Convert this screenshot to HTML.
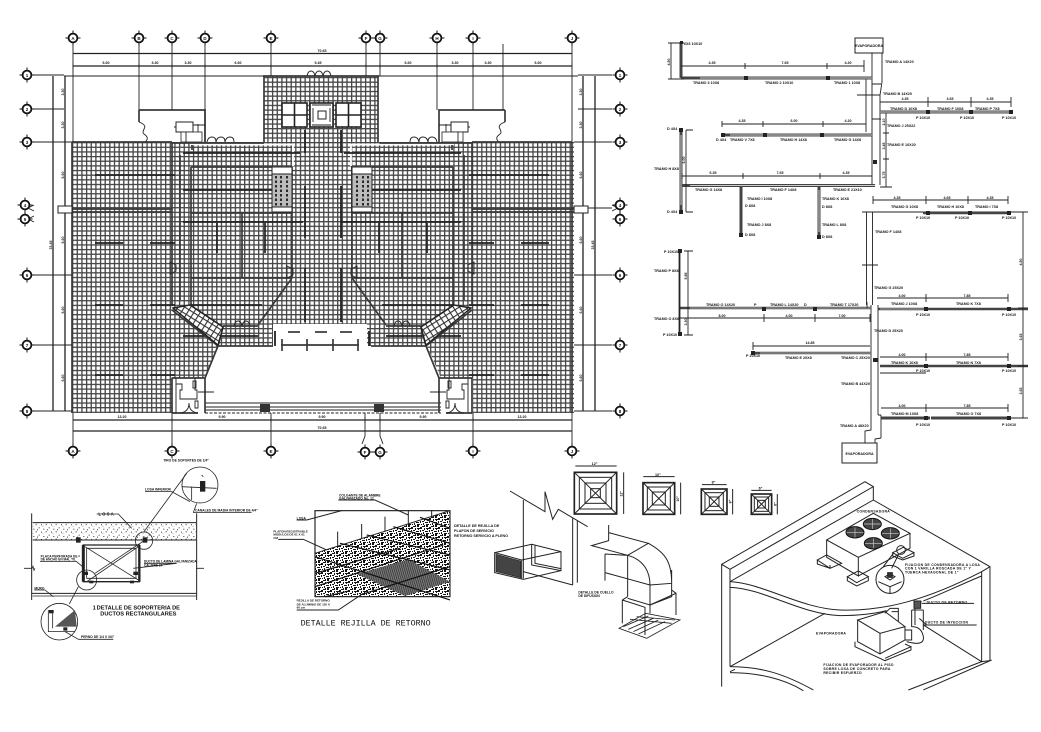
<!DOCTYPE html>
<html lang="es"><head><meta charset="utf-8"><title>Plano de aire acondicionado</title>
<style>
html,body{margin:0;padding:0;background:#fff}
svg{display:block}
text{font-family:"Liberation Sans",sans-serif;font-weight:700;fill:#111}
.t{font-size:3.7px}
.d{font-size:3.6px;text-anchor:middle}
.b{font-size:4.5px;text-anchor:middle}
.l{fill:none;stroke:#222;stroke-width:.9}
.w{fill:none;stroke:#3a3a3a;stroke-width:1.7}
.k{fill:none;stroke:#222;stroke-width:1.8}
.h{fill:none;stroke:#222;stroke-width:1.7}
</style></head><body>
<svg width="1041" height="732" viewBox="0 0 1041 732" xmlns="http://www.w3.org/2000/svg">
<defs>
<pattern id="g" width="4.65" height="4.65" patternUnits="userSpaceOnUse" x="72" y="142">
<rect width="4.65" height="4.65" fill="#fff"/>
<path d="M0 0V4.65M0 0H4.65" stroke="#444" stroke-width="2.6" fill="none"/>
</pattern>
<pattern id="g2" width="5.4" height="5.4" patternUnits="userSpaceOnUse" patternTransform="rotate(32)">
<rect width="5.4" height="5.4" fill="#fff"/>
<path d="M0 0V5.4M0 0H5.4" stroke="#333" stroke-width="2.2" fill="none"/>
</pattern>
<pattern id="sp" width="9" height="9" patternUnits="userSpaceOnUse" patternTransform="scale(3)">
<rect width="9" height="9" fill="#fff"/>
<path d="M0 1h3v1h-3zM4 0h2v2h-2zM7 2h2v2h-2zM2 3h1v2h-1zM4 3h3v1h-3zM0 5h2v1h-2zM3 6h3v1h-3zM7 5h1v2h-1zM1 7h1v2h-1zM4 8h3v1h-3zM8 8h1v1h-1zM5 4h1v1h-1zM2 0h1v1h-1z" fill="#111"/>
</pattern>
<pattern id="st" width="30" height="22" patternUnits="userSpaceOnUse">
<path d="M3 3h3v3h-3zM17 2h3v3h-3zM26 12h3v3h-3zM10 16h3v3h-3zM21 18h3v3h-3zM8 8h2v2h-2z" fill="#333"/>
</pattern>
<pattern id="ht" width="6" height="6" patternUnits="userSpaceOnUse" patternTransform="rotate(-16)">
<rect width="6" height="6" fill="#777"/><path d="M0 0V6" stroke="#222" stroke-width="3.500"/>
</pattern>
<g id="bu"><circle r="4.4" fill="#fff" stroke="#111" stroke-width="1.8"/><path d="M-7.500 0h3M4.500 0h3M0-7.500v3M0 4.500v3" stroke="#111" stroke-width="1"/></g>
<g id="half">
 <path class="w" d="M139 110H205V142M139 110V122"/>
 <path class="l" d="M139 122q8 3 5 7q-2 4 0 5q6 4 1 8M139 142h9"/>
 <rect x="176" y="122" width="17" height="10" fill="#fff" stroke="#222" stroke-width="1"/>
 <rect x="181" y="132" width="21" height="10" fill="#fff" stroke="#222" stroke-width=".8"/>
 <path class="l" d="M186 132v10M176 127h-2M198 124v8M193 125h12"/>
 <path class="l" d="M207 142q1-5 5-5t4 5q1-5 5-5t4 5q1-5 5-5t4 5" stroke-width="1.100"/>
 <path d="M190 144.500H293V166" fill="none" stroke="#fff" stroke-width="1.800"/>
 <path class="w" d="M172 143H264M172 143V305M180 155V300M191 167V305M191 167H272M191 213H292M292 167V278M191 278H292M242 213V278M192 145V150"/>
 <rect x="272" y="167" width="20" height="45" fill="#bbb" stroke="#222"/>
 <rect x="272" y="167" width="20" height="7" fill="#fff" stroke="#222"/>
 <rect x="272" y="207" width="20" height="5" fill="#fff" stroke="#222"/>
 <path d="M276 176v30M281 176v30M287 176v30" stroke="#111" stroke-width="1.700" stroke-dasharray="2.500 2" fill="none"/>
 <path class="h" d="M95 175H175M183 153H300M183 190H272M183 222H303M217 223V253M265 223V253M190 305H262M95 243H123M150 243H175M95 305H123M150 305H175M95 375H123M150 375H175M183 336H258"/>
 <path class="w" d="M60 209H172M60 212H172" stroke-width="1.200"/>
 <path class="w" d="M72 142V413M72 142H172M292 278L258 325M258 326H223M190 305L223 327L218 346L205 378M172 310L218 346M172 378V413"/>
 <polygon points="173,308 190,305 223,327 218,345" fill="url(#g2)" stroke="#222" stroke-width="1.400"/>
 <path class="k" d="M275 331V346" stroke-width="1.300"/>
 <path class="w" d="M218 346H273"/>
 <path class="l" d="M234 326q1-5 4-5t4 5q1-5 4-5t4 5"/>
 <path class="l" d="M287 266l6 3v6l-6 3zM170 262l6 3v6l-6 3z" fill="#fff"/>
 <path class="w" d="M172 378H205V413M172 413H198"/>
 <path class="l" d="M176 378v6h6v6h-2v9h17v-9h-2v-12M180 413q9-1 9-10q0 9 9 10"/>
 <path class="l" d="M193 381h3v7h-3zM195 401h3v7h-3zM198 392H214"/>
 <rect x="172" y="378" width="4" height="35" fill="none" stroke="#333"/>
 <rect x="260" y="404" width="10" height="8" fill="#333"/>
</g>
</defs>
<rect width="1041" height="732" fill="#fff"/>

<!-- FLOOR GRID -->
<rect x="72" y="142" width="502" height="271" fill="url(#g)"/>
<rect x="264" y="76" width="114" height="66" fill="url(#g)"/>
<path fill="#fff" d="M218 346H273V324H367V346H427L441 378H473V413H172V378H205Z"/>
<rect x="205" y="403" width="236" height="10" fill="#fff"/>
<path fill="none" stroke="#222" stroke-width="1" d="M205 403H441M205 407H441M205 410H441"/>
<path fill="none" stroke="#222" stroke-width="1" stroke-dasharray="3 1.500" d="M205 413H441"/>
<use href="#half"/>
<use href="#half" transform="translate(644,0) scale(-1,1)"/>
<path class="k" d="M305 130V153M341 130V153M305 186V238M341 186V238M305 268V322M341 268V322" stroke-width="2.200"/>
<path fill="none" stroke="#555" stroke-width="2" d="M288 332H300M315 332H327M340 332H352"/>
<path class="w" d="M281 345H359M282 339V351M307 339V351M333 339V351M358 339V351" stroke-width="1.200"/>
<path class="w" d="M264 142V76H378V142"/>
<path class="l" d="M307 76q1-5 4-5t4 5q1-5 4-5t4 5q1-5 4-5t4 5" stroke-width="1.100"/>
<g fill="#fff" stroke="#222" stroke-width="1.600">
<rect x="282" y="103" width="25" height="24"/><rect x="336" y="103" width="25" height="24"/><rect x="310" y="103" width="23" height="24"/>
</g>
<path fill="none" stroke="#222" stroke-width="1.600" d="M294.500 103V127M282 115H307M348.500 103V127M336 115H361"/>
<rect x="318" y="111" width="8" height="8" fill="#fff" stroke="#222"/>
<path class="l" d="M312 105H331M312 125H331M313 108V122M330 108V122"/>

<!-- GRID AXES -->
<path class="l" d="M73 44V142M139 44V110M172 44V110M205 44V142M271 44V76M366 44V76M380 44V76M437 44V110M473 44V110M503 44V110M572 44V142"/>
<path class="l" d="M73 413V444M172 413V444M271 413V444M365 413V436L362 444M380 413V436L383 444M473 413V444M572 413V444"/>
<path class="l" d="M34 75H64M34 109H64M34 142H72M34 275H72M34 345H72M34 411H72M574 142H612M574 208H612M574 275H612M574 345H612M574 411H612M578 75H612M578 109H612M378 76H578M64 76H264"/>
<path stroke="#222" stroke-width="1.300" fill="none" d="M73 53.500H572M73 66H572M73 420H572M73 431H572M53 76V411M65 76V411M583 76V411M595 76V411"/>
<path class="l" d="M73 63v6M139 63v6M172 63v6M205 63v6M271 63v6M366 63v6M380 63v6M437 63v6M473 63v6M572 63v6M172 417v6M271 417v6M365 417v6M380 417v6M473 417v6"/>
<path class="l" d="M34 205l-6 3l6 3M34 216l-6 3l6 3M612 205l6 3l-6 3"/>
<rect x="58" y="206" width="14" height="7" fill="#fff" stroke="#222"/>
<rect x="574" y="206" width="14" height="7" fill="#fff" stroke="#222"/>
<g>
<use href="#bu" x="73" y="38"/><use href="#bu" x="139" y="38"/><use href="#bu" x="172" y="38"/><use href="#bu" x="205" y="38"/><use href="#bu" x="271" y="38"/><use href="#bu" x="366" y="38"/><use href="#bu" x="380" y="38"/><use href="#bu" x="437" y="38"/><use href="#bu" x="473" y="38"/><use href="#bu" x="572" y="38"/>
<use href="#bu" x="73" y="451"/><use href="#bu" x="172" y="451"/><use href="#bu" x="271" y="451"/><use href="#bu" x="365" y="452"/><use href="#bu" x="380" y="452"/><use href="#bu" x="473" y="451"/><use href="#bu" x="572" y="451"/>
<use href="#bu" x="27" y="75"/><use href="#bu" x="27" y="109"/><use href="#bu" x="27" y="142"/><use href="#bu" x="25" y="205"/><use href="#bu" x="25" y="219"/><use href="#bu" x="27" y="275"/><use href="#bu" x="27" y="345"/><use href="#bu" x="27" y="411"/>
<use href="#bu" x="620" y="75"/><use href="#bu" x="620" y="109"/><use href="#bu" x="620" y="142"/><use href="#bu" x="620" y="205"/><use href="#bu" x="620" y="219"/><use href="#bu" x="620" y="275"/><use href="#bu" x="620" y="345"/><use href="#bu" x="620" y="411"/>
</g>
<g>
<text class="b" x="73" y="40">A</text><text class="b" x="139" y="40">B</text><text class="b" x="172" y="40">C</text><text class="b" x="205" y="40">D</text><text class="b" x="271" y="40">E</text><text class="b" x="366" y="40">F</text><text class="b" x="380" y="40">G</text><text class="b" x="437" y="40">H</text><text class="b" x="473" y="40">I</text><text class="b" x="572" y="40">J</text>
<text class="b" x="73" y="453">A</text><text class="b" x="172" y="453">C</text><text class="b" x="271" y="453">E</text><text class="b" x="365" y="454">F</text><text class="b" x="380" y="454">G</text><text class="b" x="473" y="453">I</text><text class="b" x="572" y="453">J</text>
<text class="b" x="27" y="77">1</text><text class="b" x="27" y="111">2</text><text class="b" x="27" y="144">3</text><text class="b" x="25" y="207">4</text><text class="b" x="25" y="221">5</text><text class="b" x="27" y="277">6</text><text class="b" x="27" y="347">7</text><text class="b" x="27" y="413">8</text>
<text class="b" x="620" y="77">1</text><text class="b" x="620" y="111">2</text><text class="b" x="620" y="144">3</text><text class="b" x="620" y="207">4</text><text class="b" x="620" y="221">5</text><text class="b" x="620" y="277">6</text><text class="b" x="620" y="347">7</text><text class="b" x="620" y="413">8</text>
</g>
<g>
<text class="d" x="322" y="52">70.65</text>
<text class="d" x="106" y="64">6.60</text><text class="d" x="155" y="64">3.30</text><text class="d" x="188" y="64">3.30</text><text class="d" x="238" y="64">6.60</text><text class="d" x="318" y="64">9.45</text><text class="d" x="408" y="64">6.60</text><text class="d" x="455" y="64">3.30</text><text class="d" x="488" y="64">3.30</text><text class="d" x="538" y="64">6.60</text>
<text class="d" x="122" y="418">13.20</text><text class="d" x="222" y="418">9.90</text><text class="d" x="322" y="418">9.90</text><text class="d" x="423" y="418">9.90</text><text class="d" x="522" y="418">13.20</text><text class="d" x="322" y="429">70.65</text>
<text class="d" transform="translate(64,92) rotate(-90)">3.30</text><text class="d" transform="translate(64,125) rotate(-90)">3.30</text><text class="d" transform="translate(64,175) rotate(-90)">6.60</text><text class="d" transform="translate(64,240) rotate(-90)">6.60</text><text class="d" transform="translate(64,310) rotate(-90)">6.60</text><text class="d" transform="translate(64,378) rotate(-90)">6.60</text><text class="d" transform="translate(52,245) rotate(-90)">33.45</text>
<text class="d" transform="translate(582,92) rotate(-90)">3.30</text><text class="d" transform="translate(582,125) rotate(-90)">3.30</text><text class="d" transform="translate(582,175) rotate(-90)">6.60</text><text class="d" transform="translate(582,240) rotate(-90)">6.60</text><text class="d" transform="translate(582,310) rotate(-90)">6.60</text><text class="d" transform="translate(582,378) rotate(-90)">6.60</text><text class="d" transform="translate(594,245) rotate(-90)">33.45</text>
</g>

<!-- DUCT SCHEMATIC -->
<g>
<rect x="855" y="38" width="28" height="15" fill="#fff" stroke="#222" stroke-width="1"/>
<text x="869" y="47" class="d">EVAPORADORA</text>
<path class="l" d="M872 53V82M882 53V82L880 95V185M872 82V187M866 78V132M857 95H880M872 84H881M872 119H881"/>
<path stroke="#444" stroke-width="3" fill="none" d="M681 78H872M722 135H872M880 112H1012M682 185.500H875M681 130V212M741 187V236M819 187V238M681 42V78"/>
<path stroke="#ccc" stroke-width="1" fill="none" d="M700 78H872M730 135H872M880 112H1012M690 185.500H875M681 135V205M819 190V232"/>
<path class="l" d="M671 43V79M668 43H684M668 79H684M681 66H864M745 63V69M827 63V69M864 60V72M880 102H1011M928 97V107M971 97V107M1011 97V107M722 124H866M722 121V127M763 121V127M823 121V127M682 176H872M682 173V179M743 173V179M820 173V179M686 130V212M686 130H693M686 212H693M886 113V187M883 133H889M883 159H889M880 187H892M873 200H1008M926 196V204M968 196V204M1008 196V204M873 196V204"/>
<path class="l" d="M862 212H1028M866.500 212V305M872.500 212V305M871 305V415M878 305V415M862 265H878M881 415V438M878 415H881M871 415V430L865 431V443M881 438L875 439V443"/>
<rect x="842" y="443" width="35" height="20" fill="#fff" stroke="#222" stroke-width="1"/>
<text x="859.500" y="455" class="d">EVAPORADORA</text>
<path stroke="#444" stroke-width="2.600" fill="none" d="M923 213H1010M680 308H871M753 353H871M878 309H1028M880 366H1028M927 309H1009"/>
<path stroke="#ccc" stroke-width=".8" fill="none" d="M690 308H871M760 353H871M880 309H925"/>
<path stroke="#444" stroke-width="3" fill="none" d="M931 418H1009M881 418H930"/>
<path class="k" d="M679.500 250V335" stroke-width="1.800"/>
<path class="l" d="M688 251V335M684 251H693M684 335H693M680 318H870M764 314V322M815 314V322M870 314V322M753 346H870M753 342V350M877 298H1008M926 294V302M1008 294V302M880 357H1008M926 353V361M1008 353V361M881 408H1008M926 404V412M1008 404V412M1023 212V418M1018 308H1028M1018 366H1028M1018 418H1028M880 373H926M1009 418H1024M867 302V308"/>
<g fill="#222">
<rect x="680" y="41" width="3" height="3"/><rect x="744" y="76" width="4" height="4"/><rect x="826" y="76" width="4" height="4"/><rect x="926" y="110" width="4" height="4"/><rect x="969" y="110" width="4" height="4"/><rect x="1009" y="110" width="4" height="4"/>
<rect x="721" y="133" width="4" height="4"/><rect x="763" y="133" width="4" height="4"/><rect x="820" y="133" width="4" height="4"/><rect x="679" y="128" width="4" height="4"/><rect x="679" y="210" width="4" height="4"/>
<rect x="739" y="233" width="4" height="4"/><rect x="817" y="235" width="4" height="4"/><rect x="926" y="211" width="4" height="4"/><rect x="968" y="211" width="4" height="4"/><rect x="1007" y="211" width="4" height="4"/>
<rect x="678" y="249" width="4" height="4"/><rect x="678" y="332" width="4" height="4"/><rect x="762" y="307" width="4" height="4"/><rect x="813" y="307" width="4" height="4"/><rect x="751" y="351" width="4" height="4"/><rect x="924" y="307" width="4" height="4"/><rect x="1007" y="307" width="4" height="4"/><rect x="924" y="364" width="4" height="4"/><rect x="1007" y="364" width="4" height="4"/><rect x="924" y="416" width="4" height="4"/><rect x="1007" y="416" width="4" height="4"/><rect x="873" y="358" width="5" height="4"/><rect x="873" y="160" width="4" height="4"/>
</g>
<g>
<text class="t" x="684" y="45">6X6 10X10</text><text class="t" x="885" y="63">TRAMO A 14X20</text><text class="t" x="693" y="84">TRAMO 3 10X8</text><text class="t" x="765" y="84">TRAMO 2 10X10</text><text class="t" x="834" y="84">TRAMO 1 10X8</text>
<text class="d" x="712" y="64">4.35</text><text class="d" x="785" y="64">7.65</text><text class="d" x="848" y="64">4.20</text>
<text class="t" x="883" y="95">TRAMO B 14X20</text><text class="t" x="890" y="110">TRAMO D 10X8</text><text class="t" x="937" y="110">TRAMO F 10X8</text><text class="t" x="975" y="110">TRAMO P 7X8</text>
<text class="d" x="905" y="100">4.35</text><text class="d" x="950" y="100">3.65</text><text class="d" x="990" y="100">4.35</text>
<text class="t" x="916" y="119">P 10X10</text><text class="t" x="960" y="119">P 10X10</text><text class="t" x="1002" y="119">P 10X10</text>
<text class="t" x="887" y="127">TRAMO J 25X22</text><text class="t" x="887" y="146">TRAMO E 10X20</text>
<text class="t" x="716" y="141">D 4X4</text><text class="t" x="730" y="141">TRAMO V 7X8</text><text class="t" x="780" y="141">TRAMO H 14X8</text><text class="t" x="834" y="141">TRAMO G 14X8</text>
<text class="d" x="742" y="122">4.35</text><text class="d" x="794" y="122">6.00</text><text class="d" x="848" y="122">4.20</text>
<text class="t" x="667" y="130">D 4X4</text><text class="t" x="667" y="213">D 4X4</text><text class="t" x="654" y="170">TRAMO H 8X8</text>
<text class="d" x="713" y="174">6.35</text><text class="d" x="780" y="174">7.65</text><text class="d" x="846" y="174">4.35</text>
<text class="t" x="695" y="191">TRAMO G 14X8</text><text class="t" x="770" y="191">TRAMO F 14X8</text><text class="t" x="833" y="191">TRAMO E 21X10</text>
<text class="t" x="747" y="200">TRAMO I 10X8</text><text class="t" x="747" y="226">TRAMO J 8X8</text><text class="t" x="822" y="200">TRAMO K 10X8</text><text class="t" x="822" y="226">TRAMO L 8X8</text>
<text class="t" x="745" y="207">D 8X8</text><text class="t" x="745" y="236">D 8X8</text><text class="t" x="822" y="208">D 8X8</text><text class="t" x="822" y="238">D 8X8</text>
<text class="d" x="897" y="199">4.35</text><text class="d" x="947" y="199">4.65</text><text class="d" x="990" y="199">4.35</text>
<text class="t" x="891" y="208">TRAMO G 10X8</text><text class="t" x="937" y="208">TRAMO H 10X8</text><text class="t" x="975" y="208">TRAMO I 7X8</text>
<text class="t" x="916" y="219">P 10X10</text><text class="t" x="955" y="219">P 10X10</text><text class="t" x="1002" y="219">P 10X10</text>
<text class="t" x="875" y="233">TRAMO F 14X8</text>
<text class="t" x="664" y="253">P 10X10</text><text class="t" x="654" y="272">TRAMO P 8X8</text><text class="t" x="654" y="320">TRAMO O 8X8</text><text class="t" x="663" y="336">P 10X10</text>
<text class="t" x="706" y="306">TRAMO O 14X20</text><text class="t" x="770" y="306">TRAMO L 14X20</text><text class="t" x="830" y="306">TRAMO T 17X20</text>
<text class="t" x="754" y="306">P</text><text class="t" x="804" y="306">D</text>
<text class="d" x="722" y="317">8.00</text><text class="d" x="789" y="317">4.00</text><text class="d" x="842" y="317">7.00</text>
<text class="d" x="810" y="344">14.85</text>
<text class="t" x="746" y="357">P 10X10</text><text class="t" x="785" y="359">TRAMO E 20X8</text><text class="t" x="841" y="359">TRAMO C 25X20</text>
<text class="t" x="874" y="332">TRAMO D 25X20</text><text class="t" x="874" y="289">TRAMO G 25X20</text>
<text class="d" x="902" y="297">4.00</text><text class="d" x="967" y="297">7.85</text><text class="d" x="902" y="356">4.00</text><text class="d" x="967" y="356">7.85</text><text class="d" x="902" y="407">4.00</text><text class="d" x="967" y="407">7.85</text>
<text class="t" x="891" y="305">TRAMO J 10X8</text><text class="t" x="956" y="305">TRAMO K 7X8</text><text class="t" x="891" y="364">TRAMO K 10X8</text><text class="t" x="956" y="364">TRAMO N 7X8</text><text class="t" x="891" y="415">TRAMO M 10X8</text><text class="t" x="956" y="415">TRAMO O 7X8</text>
<text class="t" x="916" y="316">P 10X10</text><text class="t" x="1002" y="316">P 10X10</text><text class="t" x="916" y="372">P 10X10</text><text class="t" x="1002" y="372">P 10X10</text><text class="t" x="916" y="426">P 10X10</text><text class="t" x="1002" y="426">P 10X10</text>
<text class="t" x="841" y="385">TRAMO B 44X20</text><text class="t" x="840" y="427">TRAMO A 48X20</text>
<text class="d" transform="translate(1022,262) rotate(-90)">4.50</text><text class="d" transform="translate(1022,337) rotate(-90)">3.65</text><text class="d" transform="translate(1022,391) rotate(-90)">3.65</text>
<text class="d" transform="translate(670,62) rotate(-90)">4.50</text><text class="d" transform="translate(685,160) rotate(-90)">6.00</text><text class="d" transform="translate(885,122) rotate(-90)">2.10</text><text class="d" transform="translate(885,146) rotate(-90)">3.45</text><text class="d" transform="translate(885,175) rotate(-90)">3.75</text><text class="d" transform="translate(687,276) rotate(-90)">5.85</text><text class="d" transform="translate(687,322) rotate(-90)">3.30</text>
</g>
</g>

<!-- DETAIL 1 -->
<g transform="translate(20,450) scale(.3333)">
<rect x="38" y="218" width="490" height="52" fill="url(#st)"/>
<g fill="none" stroke="#222" stroke-width="2.400">
<path d="M38 218H528M38 270H528M35 190V450M530 190V450M35 430H530" stroke-width="3"/>
<path d="M38 438H528M12 355H36l3-6l3 12l3-6M528 355h24"/>
<path d="M190 285H358V395H190Z" stroke-width="4"/><path d="M200 295H348V385H200Z"/>
<path d="M195 290L355 390M355 290L200 395"/>
<path d="M190 285V395" stroke-width="9"/><path d="M358 285V395" stroke-width="7"/>
<circle cx="372" cy="272" r="26"/><circle cx="540" cy="105" r="54"/><circle cx="200" cy="390" r="30"/><circle cx="118" cy="515" r="55"/>
<path d="M372 245L500 70M225 370L372 272M175 410L148 462M230 192H295L335 235M375 125H455L510 155M485 110L590 115M515 110V150M545 75L550 80M520 188H695M530 160L520 188M60 335H170L190 352M372 340L470 340L340 355M43 420H75L100 440M175 568H280M135 545L175 568"/>
<path d="M85 480V545H165M98 490V535"/>
</g>
<polygon points="105,530 165,480 170,530" fill="#555"/>
<rect x="168" y="262" width="14" height="16" fill="#222"/><rect x="368" y="262" width="14" height="16" fill="#222"/><rect x="540" y="93" width="16" height="32" fill="#222"/>
<rect x="340" y="365" width="14" height="10" fill="#222"/><rect x="190" y="365" width="14" height="10" fill="#222"/><rect x="208" y="392" width="12" height="8" fill="#222"/><rect x="330" y="392" width="12" height="8" fill="#222"/><rect x="87" y="480" width="14" height="10" fill="#222"/><rect x="130" y="532" width="12" height="10" fill="#222"/>
<text x="235" y="197" font-size="13">L O S A</text>
<text x="375" y="122" font-size="10">LOSA INFERIOR</text>
<text x="430" y="35" font-size="10">TIRO DE SOPORTES DE 1/4"</text>
<text x="525" y="185" font-size="10">CANALES DE MADIA INTERIOR DE 4/4"</text>
<text x="62" y="322" font-size="9.500">PLACA PERFORADA DE =</text><text x="62" y="332" font-size="9.500">DE ANCHO EN MAL TIL</text>
<text x="372" y="337" font-size="9.500">DUCTO DE LAMINA GALVANIZADA</text><text x="372" y="349" font-size="9.500">CALIBRE 24</text>
<text x="43" y="418" font-size="10">MURO</text>
<text x="183" y="564" font-size="10">PERNO DE 1/4 X 3/4"</text>
<text x="218" y="479" font-size="17">1</text>
<text x="355" y="479" font-size="17" text-anchor="middle">DETALLE DE SOPORTERIA DE</text>
<text x="355" y="497" font-size="17" text-anchor="middle">DUCTOS RECTANGULARES</text>
</g>

<!-- REJILLA -->
<g transform="translate(260,480) scale(.3333)">
<polygon points="165,220 570,92 570,350 165,350" fill="url(#sp)"/>
<polygon points="290,282 445,238 570,305 435,348" fill="url(#ht)"/>
<g fill="none" stroke="#222" stroke-width="3">
<rect x="165" y="92" width="405" height="258" stroke-width="3.500"/>
<path d="M165 220L570 92"/>
<path d="M165 230L570 360M240 190L570 270M320 165L570 225M400 140L570 190M480 112L570 145M165 280L420 205M165 320L550 195M300 345L570 260M195 350L270 332" stroke-width="3.500" stroke="#111"/>
<path d="M233 155V198M305 132V176M375 110V155M445 90V133M515 90V110"/>
<path d="M235 60H345L445 105M110 120H140L245 92M55 178H130L200 210M110 390H235L310 340"/>
</g>
<text x="237" y="50" font-size="10">COLGANTE DE ALAMBRE</text><text x="237" y="58" font-size="10">GALVANIZADO No. 12</text>
<text x="110" y="118" font-size="10">LOSA</text>
<text x="40" y="158" font-size="9">PLAFON REGISTRABLE</text><text x="40" y="167" font-size="9">MODULOS DE 61 X 61</text><text x="40" y="177" font-size="9">CM</text>
<text x="110" y="365" font-size="9">REJILLA DE RETORNO</text><text x="110" y="376" font-size="9">DE ALUMINIO DE 120 X</text><text x="110" y="386" font-size="9">60 cm</text>
<text x="122" y="437" font-size="25" style="font-family:'Liberation Mono',monospace;font-weight:400">DETALLE REJILLA DE RETORNO</text>
</g>
<text class="t" x="454" y="527">DETALLE DE REJILLA DE</text><text class="t" x="454" y="532">PLAFON DE SERVICIO</text><text class="t" x="454" y="537">RETORNO SERVICIO A PLENO</text>

<!-- DIFFUSERS + DUCTS -->
<g transform="translate(490,450) scale(.3333)" fill="none" stroke="#222" stroke-width="3">
<rect x="253" y="67" width="127" height="125" stroke-width="5"/><rect x="268" y="82" width="97" height="95"/><rect x="285" y="99" width="63" height="61"/><rect x="302" y="116" width="29" height="27"/>
<path d="M253 67L380 192M380 67L253 192"/><path d="M256 48H380M401 67V192"/>
<rect x="459" y="98" width="95" height="95" stroke-width="5"/><rect x="472" y="111" width="69" height="69"/><rect x="487" y="126" width="39" height="39"/>
<path d="M459 98L554 193M554 98L459 193M460 80H554M572 98V193"/>
<rect x="634" y="117" width="77" height="76" stroke-width="5"/><rect x="645" y="128" width="55" height="54"/><rect x="658" y="141" width="29" height="28"/>
<path d="M634 117L711 193M711 117L634 193M636 104H710M728 117V193"/>
<rect x="784" y="132" width="61" height="61" stroke-width="5"/><rect x="793" y="141" width="43" height="43"/><rect x="803" y="151" width="23" height="23"/>
<path d="M784 132L845 193M845 132L784 193M784 121H845M862 132V193"/>
<path d="M60 123L165 185V125L188 208L205 178L293 230M100 150V385M248 205V405M262 212V398M100 365L248 405"/>
<path d="M14 308L125 283L213 305V362L100 388L14 368ZM14 308L95 330V388M95 330L213 305M125 283V345L213 362M135 285V340L213 356"/>
<polygon points="18,313 92,333 92,383 18,365" fill="#444" stroke-width="2"/>
<path d="M356 225V272L305 287L413 316M356 248L475 280L413 316M413 316V440M475 280C530 310 545 340 545 400L480 405M413 316C465 330 480 370 480 405V465M545 360V440L480 465M345 312V392M345 312L413 316M345 368L480 405"/>
<path d="M397 450V520M397 450L413 440M413 445L480 465L558 430V495M397 450L465 472V555M545 420L558 430M480 465V490"/>
<path d="M387 535L467 490L570 510L470 565ZM400 530L475 498M415 538L490 505M430 545L505 510M445 552L525 515M420 508L545 520M440 500L555 510" stroke-width="2.500"/>
<text x="265" y="431" font-size="10" fill="#111" stroke="none">DETALLE DE CUELLO</text><text x="265" y="441" font-size="10" fill="#111" stroke="none">DE DIFUSION</text>
<g stroke="none" fill="#111" font-size="11">
<text x="305" y="45">12"</text><text x="495" y="78">10"</text><text x="665" y="100">8"</text><text x="806" y="118">6"</text>
<text transform="translate(397,140) rotate(-90)">12"</text><text transform="translate(567,155) rotate(-90)">10"</text><text transform="translate(724,160) rotate(-90)">8"</text><text transform="translate(859,168) rotate(-90)">6"</text>
</g>
</g>

<!-- ISOMETRIC -->
<g transform="translate(710,470) scale(.3333)" fill="none" stroke="#222" stroke-width="3">
<path d="M35 283L465 35L490 50L60 298ZM490 50V90L840 290V572M60 298V335L490 90M35 283V590M815 305V575L840 572M815 305L840 290M60 335V590"/>
<path d="M60 335C160 340 270 415 390 420C520 425 650 390 815 305"/>
<path d="M60 352C160 355 270 432 390 437C450 437 490 432 530 422M640 393C700 370 760 340 815 318"/>
<path d="M60 590C150 590 220 610 310 660M60 608C140 608 220 625 280 662M35 590V650M815 575L595 660M845 570L640 660"/>
<path d="M60 590L345 430M640 465L815 575M60 605L75 598"/>
<path d="M350 210L490 130L600 190L445 262ZM350 210V262L445 318V262M445 318L600 235V190"/>
<g fill="#444" stroke="#111" stroke-width="3">
<ellipse cx="435" cy="187" rx="27" ry="17"/><ellipse cx="487" cy="162" rx="27" ry="17"/><ellipse cx="541" cy="190" rx="27" ry="17"/><ellipse cx="490" cy="220" rx="27" ry="17"/>
</g>
<path stroke="#ccc" stroke-width="2" d="M410 187H460M435 172V202M462 162H512M487 147V177M516 190H566M541 175V205M465 220H515M490 205V235"/>
<path d="M322 270L350 255L395 280L360 295ZM322 270V282L360 295V285M412 320L445 303L475 320L440 338ZM412 320V332L440 348L475 332V320M548 248L580 232L612 248L578 265ZM548 248V258L578 270L612 258V248"/>
<circle cx="540" cy="328" r="42"/><circle cx="573" cy="240" r="13"/>
<path d="M505 335L540 350L575 335M540 350V372M525 320L540 312L555 320L540 330ZM565 255L545 295M550 250L520 290"/>
<rect x="533" y="308" width="14" height="14" fill="#333"/>
<path d="M443 450L525 425L585 470L510 490ZM443 450V515L510 552L585 510V470M510 490V552M435 515V530L525 572L603 540V530L525 565M603 530L585 522"/>
<path d="M525 430L540 415H565V455M545 425H565M585 480H605V510H585M605 420V470Q635 470 640 500T590 515M615 395V465M640 420V480M605 420H640M615 395H635"/>
<rect x="612" y="393" width="20" height="22" fill="#555"/>
<path d="M635 400H792M640 465H800M628 445L650 465"/>
<g stroke="none" fill="#111" font-size="10.500" letter-spacing=".8">
<text x="440" y="127">CONDENSADORA</text>
<text x="585" y="288">FIJACION DE CONDENSADORA A LOSA</text><text x="585" y="299">CON 1 VARILLA ROSCADA DE 1" Y</text><text x="585" y="310">TUERCA HEXAGONAL DE 1"</text>
<text x="650" y="401">DUCTO DE RETORNO</text><text x="645" y="461">DUCTO DE INYECCION</text>
<text x="318" y="493">EVAPORADORA</text>
<text x="340" y="588">FIJACION DE EVAPORADOR AL PISO</text><text x="340" y="600">SOBRE LOSA DE CONCRETO PARA</text><text x="340" y="612">RECIBIR ESFUERZO</text>
</g>
</g>
</svg>
</body></html>
